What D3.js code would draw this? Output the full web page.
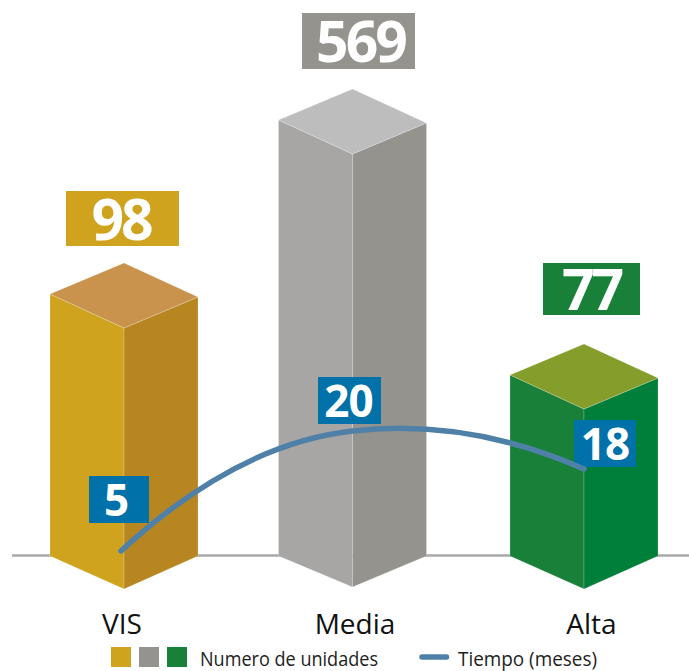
<!DOCTYPE html>
<html>
<head>
<meta charset="utf-8">
<title>Numero de unidades y tiempo</title>
<script src="https://cdn.jsdelivr.net/npm/d3@7/dist/d3.min.js"></script>
<style>
  html, body { margin: 0; padding: 0; background: #fff; }
  svg { display: block; }
  text { font-family: "Open Sans", sans-serif; }
</style>
</head>
<body>
<svg id="chart" width="689" height="671"></svg>
<script>
var categories = ["VIS", "Media", "Alta"];
var unidades = [98, 569, 77];
var meses = [5, 20, 18];

var frontColors = ["#cfa31e", "#a7a6a4", "#19803a"];
var sideColors = ["#b78621", "#95938e", "#007f3a"];
var topColors = ["#c9934d", "#bdbdbd", "#859d2b"];
var boxColors = ["#cfa31e", "#95938e", "#19803a"];
var labelBlue = "#0071a9";
var lineBlue = "#4f81a8";

// the bars in the picture are not to a straight scale, so the scales are piecewise
var x = d3.scaleOrdinal().domain(categories).range([124, 352.5, 584]);
var y = d3.scaleLinear().domain([0, 77, 98, 569]).range([589, 409, 328, 154]);
var yLine = d3.scaleLinear().domain([5, 18, 20]).range([551, 469, 431]);

var halfW = 74, riseL = 34, riseR = 31, baseY = 556, tipDy = [0, -2, 0];
var svg = d3.select("#chart");

// baseline
svg.append("line")
  .attr("x1", 12).attr("x2", 689).attr("y1", 555.5).attr("y2", 555.5)
  .attr("stroke", "#a9a9a9").attr("stroke-width", 2.4);

var bars = svg.selectAll("g.bar")
  .data(categories)
  .enter().append("g")
  .attr("class", "bar");

function poly(pts) { return d3.line()(pts) + "Z"; }

bars.append("path")
  .attr("d", function (d, i) {
    var c = x(d), t = y(unidades[i]);
    return poly([[c - halfW, t - riseL], [c, t], [c, y(0) + tipDy[i]], [c - halfW, baseY]]);
  })
  .attr("fill", function (d, i) { return frontColors[i]; });

bars.append("path")
  .attr("d", function (d, i) {
    var c = x(d), t = y(unidades[i]);
    return poly([[c + halfW, t - riseR], [c, t], [c, y(0) + tipDy[i]], [c + halfW, baseY]]);
  })
  .attr("fill", function (d, i) { return sideColors[i]; });

bars.append("path")
  .attr("d", function (d, i) {
    var c = x(d), t = y(unidades[i]);
    return poly([[c, t - 65], [c + halfW, t - riseR], [c, t], [c - halfW, t - riseL]]);
  })
  .attr("fill", function (d, i) { return topColors[i]; });

// light seams on the edges of each block
bars.selectAll("path")
  .attr("stroke", "#fff").attr("stroke-opacity", 0.25).attr("stroke-width", 0.8);

// value boxes above the bars
var boxW = [113, 113, 97], boxH = [55, 56, 52], boxDx = [-1.5, 6, 7.5], boxGap = [17, 20, 29];
var numDx = [-1.5, 2, 0];

svg.selectAll("rect.value")
  .data(unidades)
  .enter().append("rect")
  .attr("class", "value")
  .attr("x", function (d, i) { return x(categories[i]) + boxDx[i] - boxW[i] / 2; })
  .attr("y", function (d, i) { return y(d) - 65 - boxGap[i] - boxH[i]; })
  .attr("width", function (d, i) { return boxW[i]; })
  .attr("height", function (d, i) { return boxH[i]; })
  .attr("fill", function (d, i) { return boxColors[i]; });

svg.selectAll("text.value")
  .data(unidades)
  .enter().append("text")
  .attr("class", "value")
  .attr("x", function (d, i) { return x(categories[i]) + boxDx[i] + numDx[i]; })
  .attr("y", function (d, i) { return y(d) - 65 - boxGap[i] - boxH[i] / 2 + 21; })
  .attr("text-anchor", "middle")
  .attr("font-size", 57).attr("font-weight", 700)
  .attr("letter-spacing", -3)
  .attr("fill", "#fff")
  .text(function (d) { return d; });

// blue month labels sit under the line so it crosses over them
var tagW = [60, 63, 62], tagH = 47, tagDx = [-5, -3, 21], tagDy = [-75, -54, -49];
var tagTextDx = [-3, -1, 0];

svg.selectAll("rect.tag")
  .data(meses)
  .enter().append("rect")
  .attr("class", "tag")
  .attr("x", function (d, i) { return x(categories[i]) + tagDx[i] - tagW[i] / 2; })
  .attr("y", function (d, i) { return yLine(d) + tagDy[i]; })
  .attr("width", function (d, i) { return tagW[i]; })
  .attr("height", tagH)
  .attr("fill", labelBlue);

// arch through the three points: two cubics with a shared tangent at the middle one
var p = meses.map(function (d, i) { return [x(categories[i]) - (i === 0 ? 3 : 0), yLine(d)]; });
var c1 = [(p[0][0] + p[1][0]) / 2, p[1][1] + 0.108 * (p[0][1] - p[1][1])];
var c2 = [2 * p[1][0] - c1[0], 2 * p[1][1] - c1[1]];
var arch = d3.path();
arch.moveTo(p[0][0], p[0][1]);
arch.quadraticCurveTo(c1[0], c1[1], p[1][0], p[1][1]);
arch.quadraticCurveTo(c2[0], c2[1], p[2][0], p[2][1]);

svg.append("path")
  .attr("d", arch.toString())
  .attr("fill", "none")
  .attr("stroke", lineBlue)
  .attr("stroke-width", 5.5)
  .attr("stroke-linecap", "round");

svg.selectAll("text.tag")
  .data(meses)
  .enter().append("text")
  .attr("class", "tag")
  .attr("x", function (d, i) { return x(categories[i]) + tagDx[i] + tagTextDx[i]; })
  .attr("y", function (d, i) { return yLine(d) + tagDy[i] + tagH / 2 + 16; })
  .attr("text-anchor", "middle")
  .attr("font-size", 44).attr("font-weight", 700)
  .attr("letter-spacing", -1)
  .attr("fill", "#fff")
  .text(function (d) { return d; });

// category labels
svg.selectAll("text.cat")
  .data(categories)
  .enter().append("text")
  .attr("class", "cat")
  .attr("x", function (d, i) { return x(d) + [-2, 2.5, 7.5][i]; })
  .attr("y", 634)
  .attr("text-anchor", "middle")
  .attr("font-size", 28)
  .attr("fill", "#111")
  .text(function (d) { return d; });

// legend
svg.selectAll("rect.legend")
  .data(categories)
  .enter().append("rect")
  .attr("class", "legend")
  .attr("x", function (d, i) { return 111 + i * 28; })
  .attr("y", 647)
  .attr("width", 20).attr("height", 20)
  .attr("fill", function (d, i) { return boxColors[i]; });

svg.append("text")
  .attr("x", 200).attr("y", 666)
  .attr("font-size", 20).attr("fill", "#222")
  .attr("textLength", 178).attr("lengthAdjust", "spacingAndGlyphs")
  .text("Numero de unidades");

svg.append("line")
  .attr("x1", 422).attr("x2", 446.5).attr("y1", 657).attr("y2", 657)
  .attr("stroke", lineBlue).attr("stroke-width", 5.5).attr("stroke-linecap", "round");

svg.append("text")
  .attr("x", 458).attr("y", 666)
  .attr("font-size", 20).attr("fill", "#222")
  .attr("textLength", 139).attr("lengthAdjust", "spacingAndGlyphs")
  .text("Tiempo (meses)");
</script>
</body>
</html>
